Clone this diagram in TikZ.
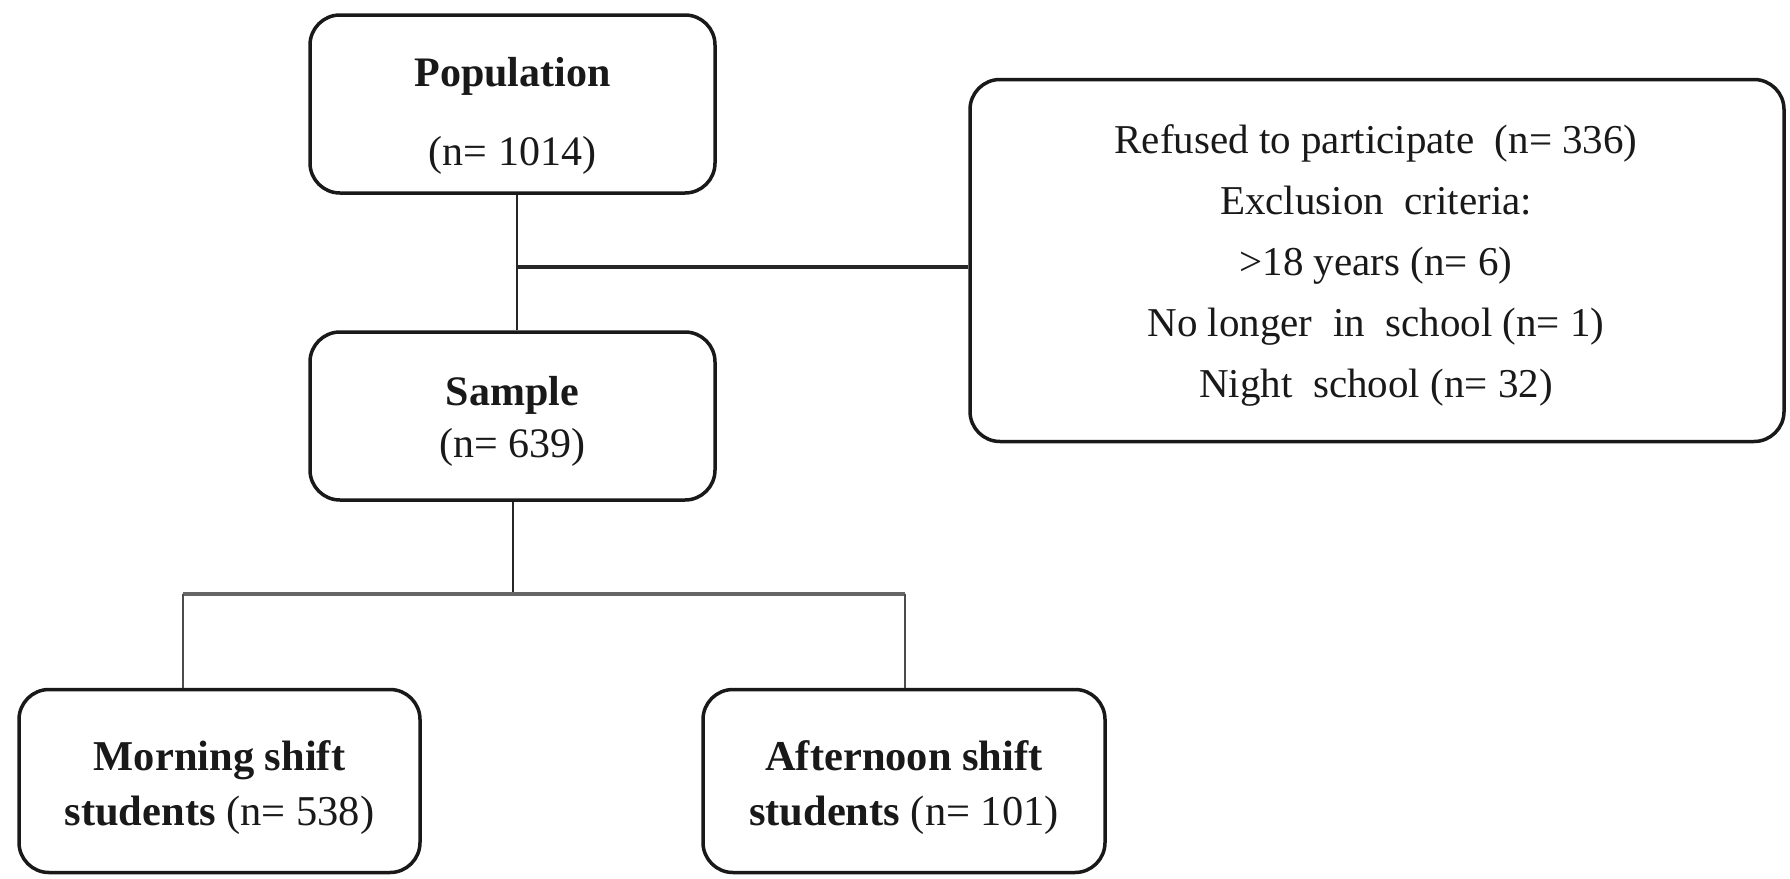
\documentclass[tikz,border=0pt]{standalone}
\usepackage{fontspec}
\setmainfont{Liberation Serif}
\usetikzlibrary{calc}
\begin{document}
\begin{tikzpicture}[x=1pt,y=-1pt,
  box/.style={draw=black!90, line width=3.5pt, rounded corners=30pt, inner sep=0pt},
  txt/.style={inner sep=0pt, text=black!90, anchor=base},
  big/.style={font=\fontsize{42}{48}\selectfont},
  med/.style={font=\fontsize{41}{48}\selectfont},
  low/.style={font=\fontsize{42.5}{51}\selectfont},
  conn/.style={draw=black!85, line width=2pt},
  thick conn/.style={draw=black!85, line width=3.5pt},
  gray conn/.style={draw=black!60, line width=4pt}]
\useasboundingbox (0,0) rectangle (1790,878);
\fill[white] (0,0) rectangle (1790,878);

% boxes
\node[box, minimum width=405pt, minimum height=178pt] (pop) at (512.5,104) {};
\node[box, minimum width=405pt, minimum height=168pt] (samp) at (512.5,416) {};
\node[box, minimum width=814pt, minimum height=362pt] (excl) at (1377,260.5) {};
\node[box, minimum width=401pt, minimum height=183pt] (morn) at (219.5,781) {};
\node[box, minimum width=402pt, minimum height=183pt] (aft) at (904,781) {};

% texts
\node[txt, big] (poptitle) at (512.5,86) {\bfseries Population};
\node[txt, big] (popn) at (512.5,165) {(n= 1014)};
\node[txt, big] (samptitle) at (512.5,405) {\bfseries Sample};
\node[txt, big] (sampn) at (512.5,457) {(n= 639)};

\node[txt, med] (ex1) at (1376,153) {Refused to participate\ \ (n= 336)};
\node[txt, med] (ex2) at (1376,214) {Exclusion\ \ criteria:};
\node[txt, med] (ex3) at (1376,275) {>18 years (n= 6)};
\node[txt, med] (ex4) at (1376,336) {No longer\ \ in\ \ school (n= 1)};
\node[txt, med] (ex5) at (1376,397) {Night\ \ school (n= 32)};

\node[txt, low] (morn1) at (219.5,770) {\bfseries Morning shift};
\node[txt, low] (morn2) at (219.5,825) {\textbf{students} (n= 538)};
\node[txt, low] (aft1) at (904,770) {\bfseries Afternoon shift};
\node[txt, low] (aft2) at (904,825) {\textbf{students} (n= 101)};

% connectors
\coordinate (j1) at ($(pop.south)+(4.5,0)$);
\draw[conn] (j1) -- (j1 |- samp.north);
\coordinate (j1h) at ($(j1)+(0,72)$);
\draw[thick conn] (j1h) -- (j1h -| excl.west);

\coordinate (j2) at ($(samp.south)+(0.5,0)$);
\coordinate (j2b) at ($(j2)+(0,94)$);
\draw[conn] (j2) -- (j2b);
\coordinate (bl) at (183,594);
\coordinate (br) at (905,594);
\draw[gray conn] (bl) -- (br);
\draw[conn, draw=black!70] (bl) -- (bl |- morn.north);
\draw[conn, draw=black!70] (br) -- (br |- aft.north);
\end{tikzpicture}
\end{document}
